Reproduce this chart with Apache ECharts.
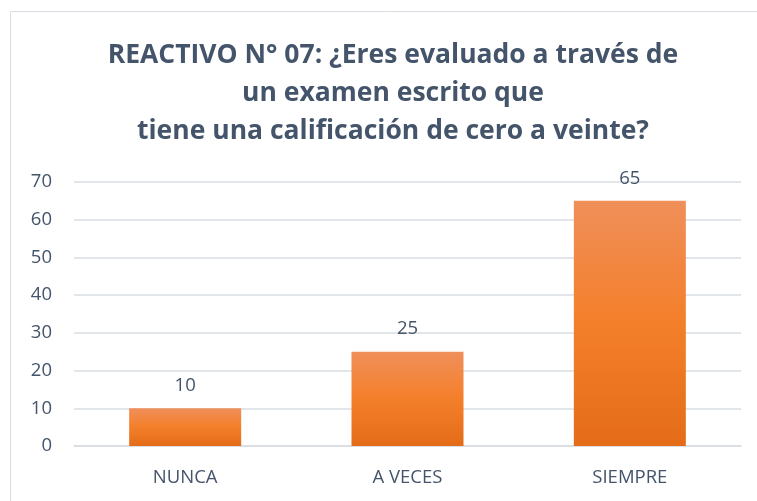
<!DOCTYPE html>
<html>
<head>
<meta charset="utf-8">
<script src="https://cdn.jsdelivr.net/npm/echarts@6/dist/echarts.min.js"></script>
<style>
  html, body { margin: 0; padding: 0; background: #fff; }
  #chart { width: 757px; height: 501px; }
</style>
</head>
<body>
<div id="chart"></div>
<script>
  // datos
  var categorias = ['NUNCA', 'A VECES', 'SIEMPRE'];
  var valores = [10, 25, 65];
  var titulo = ['REACTIVO N° 07: ¿Eres evaluado a través de', 'un examen escrito que', 'tiene una calificación de cero a veinte?'];

  var textColor = '#44546a';
  var myChart = echarts.init(document.getElementById('chart'));

  var option = {
    backgroundColor: '#fff',
    graphic: [{
      type: 'rect',
      shape: { x: 10.5, y: 11.5, width: 770, height: 520 },
      style: { fill: 'none', stroke: '#d9dde3', lineWidth: 1 },
      silent: true
    }],
    title: {
      text: titulo.join('\n'),
      left: 388,
      textAlign: 'center',
      top: 31,
      textStyle: {
        fontFamily: 'Open Sans',
        fontWeight: 'bold',
        fontSize: 26.5,
        lineHeight: 38,
        color: textColor
      }
    },
    grid: { left: 74, right: 16, top: 182, bottom: 55 },
    xAxis: {
      type: 'category',
      data: categorias,
      axisLine: { lineStyle: { color: '#d9dde3', width: 1.5 } },
      axisTick: { show: false },
      axisLabel: { color: textColor, fontFamily: 'Open Sans', fontSize: 18.5, margin: 22 }
    },
    yAxis: {
      type: 'value',
      min: 0,
      max: 70,
      interval: 10,
      axisLine: { show: false },
      axisTick: { show: false },
      splitLine: { lineStyle: { color: '#d9dde3', width: 1.5 } },
      axisLabel: { color: textColor, fontFamily: 'Open Sans', fontSize: 18.5, margin: 22 }
    },
    series: [{
      type: 'bar',
      data: valores,
      barWidth: 112,
      itemStyle: {
        color: new echarts.graphic.LinearGradient(0, 0, 0, 1, [
          { offset: 0, color: '#f08f5a' },
          { offset: 0.5, color: '#f47f2a' },
          { offset: 1, color: '#e46c18' }
        ])
      },
      label: {
        show: true,
        position: 'top',
        distance: 13,
        color: textColor,
        fontFamily: 'Open Sans',
        fontSize: 18.5
      }
    }]
  };

  myChart.setOption(option);
</script>
</body>
</html>
